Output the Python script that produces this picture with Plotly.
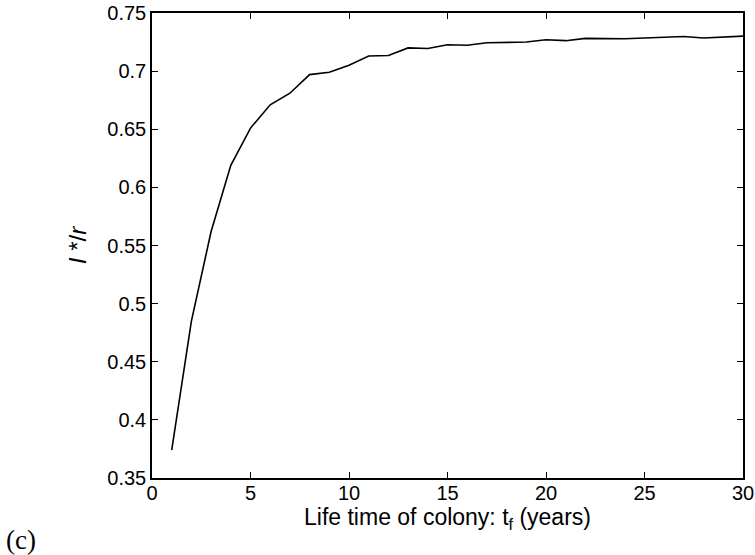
import plotly.graph_objects as go

years = list(range(1, 31))
ratio = [0.374, 0.485, 0.562, 0.619, 0.651, 0.671, 0.681, 0.697, 0.699, 0.705,
         0.713, 0.7135, 0.720, 0.7195, 0.7227, 0.7222, 0.7244, 0.725, 0.725, 0.727,
         0.7262, 0.7282, 0.7278, 0.7278, 0.7285, 0.729, 0.7298, 0.7285, 0.729, 0.7301]

x_ticks = [0, 5, 10, 15, 20, 25, 30]
y_ticks = [0.35, 0.4, 0.45, 0.5, 0.55, 0.6, 0.65, 0.7, 0.75]
y_tick_labels = ["0.35", "0.4", "0.45", "0.5", "0.55", "0.6", "0.65", "0.7", "0.75"]

fig = go.Figure()
fig.add_trace(go.Scatter(x=years, y=ratio, mode="lines",
                         line=dict(color="black", width=1.6), showlegend=False))

font = "Liberation Sans, Arial, Helvetica, sans-serif"
fig.update_layout(
    width=755, height=555,
    margin=dict(l=152, r=12, t=13, b=77, autoexpand=False),
    paper_bgcolor="white", plot_bgcolor="white",
    font=dict(family=font, size=20, color="black"),
    xaxis=dict(range=[0, 30], tickvals=x_ticks, ticks="inside", ticklen=6,
               tickcolor="black", showline=True, linecolor="black", linewidth=1.5,
               mirror="ticks", showgrid=False, zeroline=False, automargin=False,
               ticklabelstandoff=-4,
               title=dict(text="Life time of colony: t<sub>f</sub> (years)",
                          font=dict(size=23), standoff=0)),
    yaxis=dict(range=[0.35, 0.75], tickvals=y_ticks, ticktext=y_tick_labels,
               ticks="inside", ticklen=6, tickcolor="black", showline=True,
               linecolor="black", linewidth=1.5, mirror="ticks", showgrid=False,
               zeroline=False, automargin=False, ticklabelstandoff=0,
               title=dict(text="<i>I</i> */<i>r</i>", font=dict(size=24), standoff=14)),
)
fig.add_annotation(text="(c)", xref="paper", yref="paper", x=-0.251, y=-0.133,
                   xanchor="left", yanchor="middle", showarrow=False,
                   font=dict(family="Liberation Serif, Times New Roman, serif", size=27, color="black"))

fig.write_html("out.html")
